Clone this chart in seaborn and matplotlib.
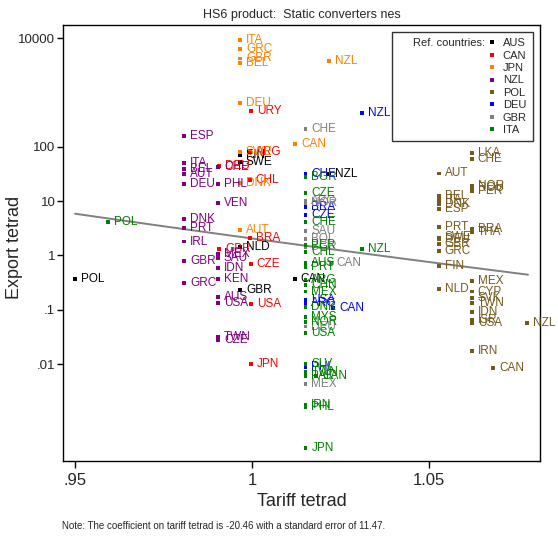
import numpy as np
import pandas as pd
import matplotlib
matplotlib.use('Agg')
import matplotlib.pyplot as plt
import seaborn as sns
from matplotlib.lines import Line2D

# reference countries and their colours
ref_countries = ['AUS', 'CAN', 'JPN', 'NZL', 'POL', 'DEU', 'GBR', 'ITA']
ref_colors = ['#000000', '#ff0000', '#ff8000', '#800080', '#735a1e', '#0000ff', '#808080', '#008000']

# partner / tariff tetrad / export tetrad, one set per reference country
aus_partner = ['FIN', 'SWE', 'NLD', 'GBR', 'CAN', 'NZL', 'POL']
aus_tariff = [0.9966, 0.9966, 0.9966, 0.9966, 1.0121, 1.0218, 0.950]
aus_export = [71, 52.7, 1.45, 0.232, 0.369, 31.7, 0.365]

can_partner = ['URY', 'ARG', 'DEU', 'CHL', 'BRA', 'GBR', 'CZE', 'USA', 'JPN']
can_tariff = [0.9997, 0.9994, 0.9907, 0.9994, 0.9994, 0.9907, 0.9997, 0.9997, 0.9997]
can_export = [458, 81.6, 44, 24.6, 2.10, 1.32, 0.689, 0.128, 0.0099]

jpn_partner = ['ITA', 'GRC', 'GBR', 'BEL', 'DEU', 'SWE', 'DNK', 'AUT', 'NZL', 'CAN']
jpn_tariff = [0.9966, 0.9966, 0.9966, 0.9966, 0.9966, 0.9966, 0.9966, 0.9966, 1.0218, 1.0122]
jpn_export = [9300, 6270, 4280, 3510, 652, 80.5, 21.6, 2.95, 3870, 112]

nzl_partner = ['ESP', 'ITA', 'BEL', 'AUT', 'DEU', 'DNK', 'PRT', 'IRL', 'GBR', 'GRC',
               'CHE', 'PHL', 'VEN', 'MEX', 'SAU', 'IDN', 'KEN', 'AUS', 'USA', 'TWN', 'CZE']
nzl_tariff = [0.9808] * 10 + [0.9904] * 11
nzl_export = [161, 49.9, 39.2, 31.3, 20.5, 4.64, 3.17, 1.80, 0.792, 0.308,
              42.1, 20.5, 9.4, 1.07, 0.888, 0.588, 0.365, 0.174, 0.135, 0.0312, 0.0278]

pol_partner = ['LKA', 'CHE', 'AUT', 'NOR', 'ROU', 'PER', 'BEL', 'ITA', 'DNK', 'ESP',
               'PRT', 'BRA', 'THA', 'SWE', 'DEU', 'GBR', 'GRC', 'FIN', 'MEX', 'NLD',
               'CYP', 'SVK', 'TWN', 'IDN', 'ISR', 'USA', 'NZL', 'IRN', 'CAN']
pol_tariff = [1.0621, 1.0621, 1.0528, 1.0621, 1.0621, 1.0621, 1.0528, 1.0528, 1.0528, 1.0528,
              1.0528, 1.0621, 1.0621, 1.0528, 1.0528, 1.0528, 1.0528, 1.0528, 1.0621, 1.0528,
              1.0621, 1.0621, 1.0621, 1.0621, 1.0621, 1.0621, 1.0777, 1.0621, 1.0681]
pol_export = [78.2, 59.1, 32.6, 19.0, 17.5, 15.4, 12.5, 10.5, 8.88, 7.09,
              3.39, 3.04, 2.74, 2.16, 1.99, 1.63, 1.22, 0.641, 0.343, 0.239,
              0.216, 0.167, 0.135, 0.090, 0.0649, 0.0564, 0.0579, 0.0174, 0.00859]

deu_partner = ['NZL', 'CHE', 'BRA', 'CZE', 'USA', 'ARG', 'CAN', 'PHL']
deu_tariff = [1.0311, 1.0151, 1.0151, 1.0151, 1.0151, 1.0151, 1.0229, 1.0151]
deu_export = [416, 31.7, 7.82, 5.57, 0.151, 0.133, 0.107, 0.00873]

gbr_partner = ['CHE', 'ARG', 'NOR', 'SAU', 'BOL', 'BGR', 'CAN', 'DEU', 'MEX']
gbr_tariff = [1.0151, 1.0151, 1.0151, 1.0151, 1.0151, 1.0151, 1.0223, 1.0151, 1.0151]
gbr_export = [214, 10.2, 9.26, 2.83, 1.99, 1.43, 0.728, 0.0489, 0.0043]

ita_partner = ['POL', 'BGR', 'CZE', 'CHE', 'PER', 'CHL', 'AUS', 'PRT', 'NZL', 'ARG',
               'CHN', 'MEX', 'DNK', 'MYS', 'NOR', 'USA', 'SLV', 'TWN', 'PAK', 'CAN',
               'IRN', 'PHL', 'JPN']
ita_tariff = [0.9593, 1.0151, 1.0151, 1.0151, 1.0151, 1.0151, 1.0151, 1.0151, 1.0311, 1.0151,
              1.0151, 1.0151, 1.0151, 1.0151, 1.0151, 1.0151, 1.0151, 1.0151, 1.0151, 1.0181,
              1.0151, 1.0151, 1.0151]
ita_export = [4.14, 28.3, 14.3, 4.19, 1.56, 1.17, 0.737, 0.622, 1.32, 0.354,
              0.286, 0.216, 0.114, 0.0746, 0.0604, 0.0369, 0.01005, 0.00716, 0.00604, 0.00604,
              0.00177, 0.00164, 0.000281]

# fitted line: ln(export) = const + coef * ln(tariff)
coef = -20.46
std_err = 11.47
fit_at_one = 2.06
fit_range = [0.95, 1.078]

groups = [
    ('AUS', aus_partner, aus_tariff, aus_export),
    ('CAN', can_partner, can_tariff, can_export),
    ('JPN', jpn_partner, jpn_tariff, jpn_export),
    ('NZL', nzl_partner, nzl_tariff, nzl_export),
    ('POL', pol_partner, pol_tariff, pol_export),
    ('DEU', deu_partner, deu_tariff, deu_export),
    ('GBR', gbr_partner, gbr_tariff, gbr_export),
    ('ITA', ita_partner, ita_tariff, ita_export),
]
frames = []
for ref, partner, tariff, export in groups:
    frames.append(pd.DataFrame({'ref': ref, 'partner': partner,
                                'tariff': tariff, 'export': export}))
df = pd.concat(frames, ignore_index=True)
palette = dict(zip(ref_countries, ref_colors))

sns.set_style('ticks')
plt.rcParams['font.family'] = ['Liberation Sans', 'DejaVu Sans']

fig = plt.figure(figsize=(5.58, 5.37), dpi=100)
ax = fig.add_axes([63 / 558, 76 / 537, 477 / 558, 436 / 537])

sns.scatterplot(data=df, x='tariff', y='export', hue='ref', palette=palette,
                marker='s', s=7, linewidth=0, legend=False, ax=ax, zorder=3)

for _, row in df.iterrows():
    ax.annotate(row['partner'], (row['tariff'], row['export']),
                xytext=(4.3, 0), textcoords='offset points',
                ha='left', va='center', fontsize=8.5,
                color=palette[row['ref']], zorder=3)

xs = np.linspace(fit_range[0], fit_range[1], 50)
ys = fit_at_one * np.exp(coef * np.log(xs))
ax.plot(xs, ys, color='#808080', lw=1.4, zorder=2)

ax.set_yscale('log')
ax.set_xlim(0.9466, 1.0814)
ax.set_ylim(1.64e-4, 17600)
ax.set_xticks([0.95, 1.0, 1.05])
ax.set_xticklabels(['.95', '1', '1.05'])
ax.set_yticks([10000, 100, 10, 1, 0.1, 0.01])
ax.set_yticklabels(['10000', '100', '10', '1', '.1', '.01'])
ax.minorticks_off()
ax.tick_params(axis='x', labelsize=12, length=5, width=1, color='black', direction='out')
ax.tick_params(axis='y', labelsize=9.5, length=4, width=1, color='black',
               direction='out', pad=1.5)
for sp in ax.spines.values():
    sp.set_visible(True)
    sp.set_color('black')
    sp.set_linewidth(1)

ax.set_xlabel('Tariff tetrad', fontsize=13)
ax.set_ylabel('Export tetrad', fontsize=13)
ax.yaxis.set_label_coords(-0.083, 0.49)
ax.set_title('HS6 product:  Static converters nes', fontsize=9, pad=5)

# legend box: "Ref. countries:" next to the colour keys
blank = Line2D([], [], linestyle='none', marker=None)
handles = [blank] * len(ref_countries)
labels = ['Ref. countries:'] + [''] * (len(ref_countries) - 1)
for ref, col in zip(ref_countries, ref_colors):
    handles.append(Line2D([], [], linestyle='none', marker='s', markersize=2.6,
                          markerfacecolor=col, markeredgewidth=0))
    labels.append(ref)
leg = ax.legend(handles, labels, ncol=2, loc='upper right', fontsize=8,
                frameon=True, fancybox=False, edgecolor='black',
                handlelength=0.6, handletextpad=0.7, columnspacing=0.3,
                labelspacing=0.22, borderpad=0.55, borderaxespad=0,
                bbox_to_anchor=(0.985, 0.984))
leg.get_frame().set_linewidth(1)

fig.text(62 / 558, 1 - 526 / 537,
         'Note: The coefficient on tariff tetrad is -20.46 with a standard error of 11.47.',
         fontsize=7, ha='left', va='center')

fig.savefig('out.png', dpi=100)
